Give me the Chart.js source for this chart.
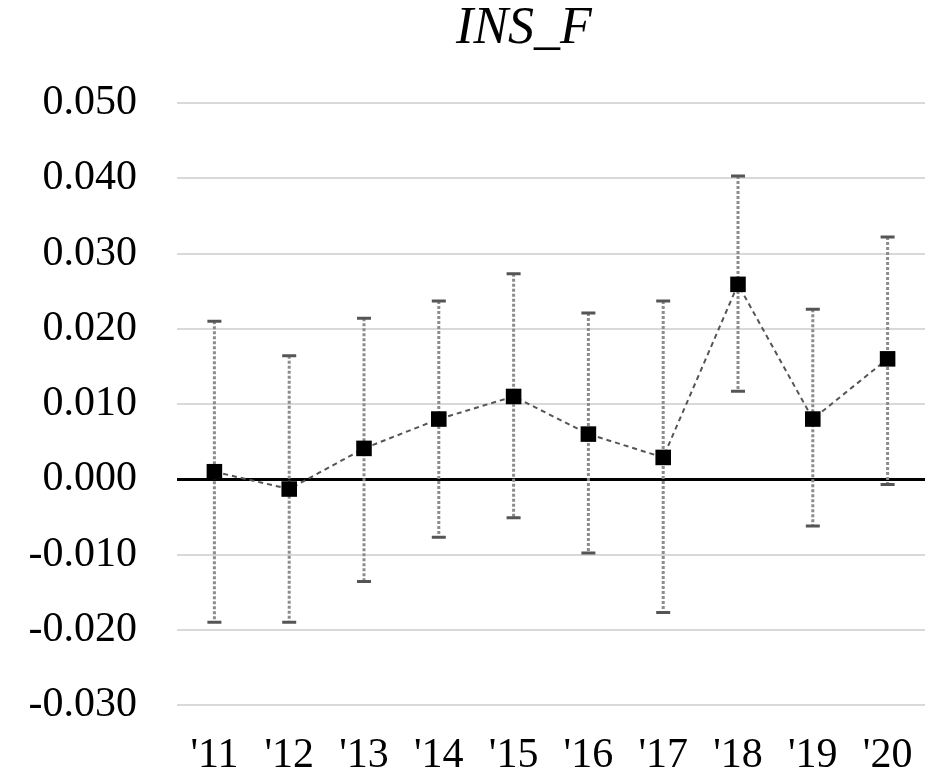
<!DOCTYPE html>
<html>
<head>
<meta charset="utf-8">
<script src="https://cdn.jsdelivr.net/npm/chart.js@4.4.1/dist/chart.umd.min.js"></script>
<style>
  html, body { margin: 0; padding: 0; background: #fff; }
  canvas { display: block; }
</style>
</head>
<body>
<canvas id="chart-ins" width="925" height="777"></canvas>
<script>
// data
const years = ["'11", "'12", "'13", "'14", "'15", "'16", "'17", "'18", "'19", "'20"];
const estimate = [0.001, -0.0013, 0.0041, 0.008, 0.011, 0.006, 0.0029, 0.0259, 0.008, 0.016];
const upper = [0.021, 0.0164, 0.0214, 0.0237, 0.0273, 0.0221, 0.0237, 0.0403, 0.0226, 0.0322];
const lower = [-0.019, -0.019, -0.0136, -0.0077, -0.0051, -0.0098, -0.0177, 0.0117, -0.0062, -0.0007];
const titleText = 'INS_F';

const serif = '"Liberation Serif", "Times New Roman", serif';

// vertical confidence bars, drawn behind the markers
const errorBars = {
  id: 'errorBars',
  beforeDatasetsDraw(chart) {
    const { ctx, scales: { x, y } } = chart;
    ctx.save();
    for (let i = 0; i < years.length; i++) {
      const px = x.getPixelForValue(i);
      const top = y.getPixelForValue(upper[i]);
      const bot = y.getPixelForValue(lower[i]);
      ctx.strokeStyle = '#8c8c8c';
      ctx.lineWidth = 3;
      ctx.setLineDash([3, 2]);
      ctx.beginPath();
      ctx.moveTo(px, top);
      ctx.lineTo(px, bot);
      ctx.stroke();
      ctx.setLineDash([]);
      ctx.strokeStyle = '#555';
      ctx.lineWidth = 3;
      ctx.beginPath();
      ctx.moveTo(px - 7, top);
      ctx.lineTo(px + 7, top);
      ctx.moveTo(px - 7, bot);
      ctx.lineTo(px + 7, bot);
      ctx.stroke();
    }
    ctx.restore();
  }
};

// title sits a little left of the plot centre, like the source
const plotTitle = {
  id: 'plotTitle',
  afterDraw(chart) {
    const { ctx, chartArea } = chart;
    ctx.save();
    ctx.font = 'italic 52px ' + serif;
    ctx.fillStyle = '#000';
    ctx.textAlign = 'center';
    ctx.textBaseline = 'alphabetic';
    ctx.fillText(titleText, (chartArea.left + chartArea.right) / 2 - 27, 43);
    ctx.restore();
  }
};

const ctx = document.getElementById('chart-ins').getContext('2d');

const myChart = new Chart(ctx, {
  type: 'line',
  data: {
    labels: years,
    datasets: [{
      label: titleText,
      data: estimate,
      borderColor: '#555',
      borderWidth: 2,
      borderDash: [5, 4],
      fill: false,
      tension: 0,
      pointStyle: 'rect',
      pointRadius: 11,
      pointHoverRadius: 11,
      pointBackgroundColor: '#000',
      pointBorderColor: '#000',
      pointBorderWidth: 0
    }]
  },
  plugins: [errorBars, plotTitle],
  options: {
    responsive: false,
    animation: false,
    layout: {
      autoPadding: false,
      padding: { top: 103, right: 0, bottom: 0, left: 0 }
    },
    plugins: {
      legend: { display: false },
      tooltip: { enabled: false }
    },
    scales: {
      x: {
        offset: true,
        grid: { display: false, drawTicks: false },
        border: { display: false },
        ticks: {
          color: '#000',
          padding: 26,
          maxRotation: 0,
          autoSkip: false,
          font: { family: serif, size: 42 }
        },
        afterFit(scale) {
          scale.height = 72;
          scale.paddingLeft = 0;
          scale.paddingRight = 0;
        }
      },
      y: {
        min: -0.03,
        max: 0.05,
        grid: {
          drawTicks: false,
          color: c => c.tick && c.tick.value === 0 ? '#000' : '#d9d9d9',
          lineWidth: c => c.tick && c.tick.value === 0 ? 3 : 2
        },
        border: { display: false },
        ticks: {
          stepSize: 0.01,
          color: '#000',
          padding: 40,
          font: { family: serif, size: 42 },
          callback: v => (Math.abs(v) < 1e-9 ? 0 : v).toFixed(3)
        },
        afterFit(scale) {
          scale.width = 177;
          scale.paddingTop = 0;
          scale.paddingBottom = 0;
        }
      }
    }
  }
});
</script>
</body>
</html>
